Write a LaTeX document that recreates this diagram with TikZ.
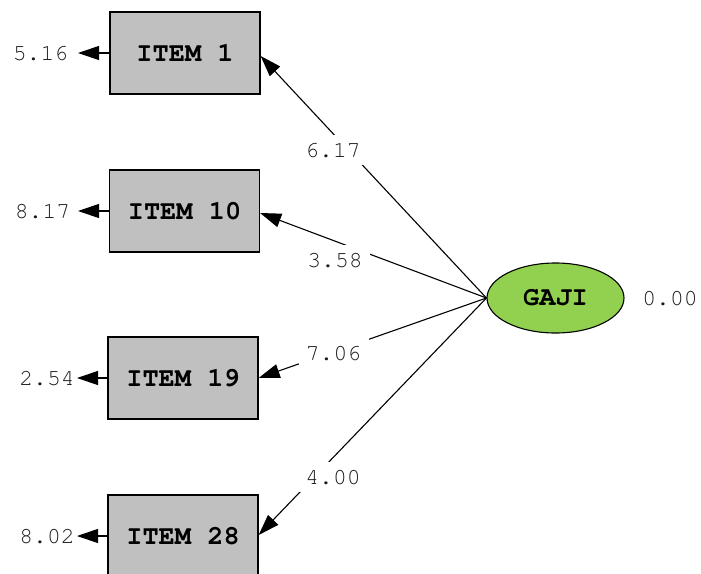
\documentclass[tikz,border=0pt]{standalone}
\usepackage[T1]{fontenc}
\usepackage{courier}
\usetikzlibrary{arrows.meta,shapes.geometric}

\definecolor{boxgray}{RGB}{192,192,192}
\definecolor{latgreen}{RGB}{146,208,80}

\tikzset{
  indicator/.style={draw=black, line width=1.3pt, fill=boxgray,
    minimum width=150pt, minimum height=82pt, inner sep=0pt,
    font=\ttfamily\bfseries\fontsize{27}{27}\selectfont},
  latent/.style={ellipse, draw=black, line width=1.1pt, fill=latgreen,
    minimum width=137pt, minimum height=70pt, inner sep=0pt,
    font=\ttfamily\bfseries\fontsize{27}{27}\selectfont},
  valtext/.style={inner sep=0pt, text=black!90,
    font=\ttfamily\fontsize{23}{23}\selectfont},
  loading/.style={fill=white, inner sep=0pt, minimum width=70pt,
    minimum height=30pt, text=black!90,
    font=\ttfamily\fontsize{23}{23}\selectfont},
  path arrow/.style={line width=1.1pt, -{Triangle[length=21pt,width=14pt]}},
}

\begin{document}
\begin{tikzpicture}[x=1pt, y=-1pt]
  \useasboundingbox (0,0) rectangle (701,573);
  \clip (0,0) rectangle (701,573);

  % observed indicators
  \node[indicator] (i1)  at (185,53)    {ITEM 1};
  \node[indicator] (i10) at (184.5,211) {ITEM 10};
  \node[indicator] (i19) at (183,378)   {ITEM 19};
  \node[indicator] (i28) at (183,536)   {ITEM 28};

  % latent variable and its variance
  \node[latent] (gaji) at (555.5,298) {GAJI};
  \node[valtext] (vg) at (670,298) {0.00};

  % error variances
  \coordinate (t1)  at (78,53);
  \coordinate (t10) at (78,211);
  \coordinate (t19) at (77,378);
  \coordinate (t28) at (77,536);
  \node[valtext] (e1)  at (40.5,53)  {5.16};
  \node[valtext] (e10) at (42.5,211) {8.17};
  \node[valtext] (e19) at (47,378)   {2.54};
  \node[valtext] (e28) at (47,536)   {8.02};
  \draw[path arrow] (i1.west)  -- (t1);
  \draw[path arrow] (i10.west) -- (t10);
  \draw[path arrow] (i19.west) -- (t19);
  \draw[path arrow] (i28.west) -- (t28);

  % factor loadings
  \draw[path arrow] (gaji.west) -- ([yshift=-3pt]i1.east);
  \draw[path arrow] (gaji.west) -- ([yshift=-2pt]i10.east);
  \draw[path arrow] (gaji.west) -- (i19.east);
  \draw[path arrow] (gaji.west) -- ([yshift=1pt]i28.east);

  \node[loading] (l1)  at (333,150) {6.17};
  \node[loading] (l10) at (335,260) {3.58};
  \node[loading] (l19) at (333.5,353) {7.06};
  \node[loading] (l28) at (333,477) {4.00};
\end{tikzpicture}
\end{document}
